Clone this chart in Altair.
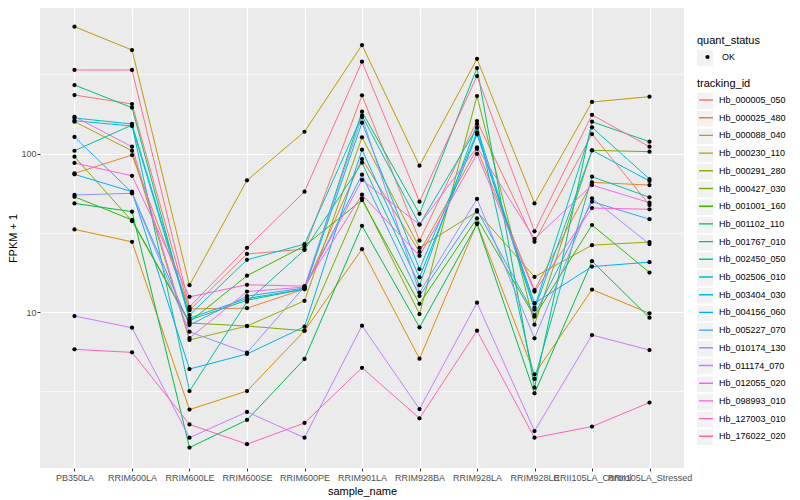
import altair as alt
import pandas as pd

samples = ["PB350LA", "RRIM600LA", "RRIM600LE", "RRIM600SE", "RRIM600PE",
           "RRIM901LA", "RRIM928BA", "RRIM928LA", "RRIM928LE",
           "RRII105LA_Control", "RRII105LA_Stressed"]

tracking_ids = ["Hb_000005_050", "Hb_000025_480", "Hb_000088_040", "Hb_000230_110",
                "Hb_000291_280", "Hb_000427_030", "Hb_001001_160", "Hb_001102_110",
                "Hb_001767_010", "Hb_002450_050", "Hb_002506_010", "Hb_003404_030",
                "Hb_004156_060", "Hb_005227_070", "Hb_010174_130", "Hb_011174_070",
                "Hb_012055_020", "Hb_098993_010", "Hb_127003_010", "Hb_176022_020"]

hue_colors = ["#F8766D", "#EA8331", "#D89000", "#C09B00", "#A3A500", "#7CAE00",
              "#39B600", "#00BB4E", "#00BF7D", "#00C1A3", "#00BFC4", "#00BAE0",
              "#00B0F6", "#35A2FF", "#9590FF", "#C77CFF", "#E76BF3", "#FA62DB",
              "#FF62BC", "#FF6C91"]

# FPKM + 1 per sample (same order as samples)
hb_000005_050 = [234.6, 205.9, 10.3, 23.3, 25.0, 233.6, 28.3, 160.8, 27.8, 133.1, 47.5]
hb_000025_480 = [75.2, 98.1, 10.5, 10.6, 14.0, 92.6, 24.0, 107.1, 13.8, 66.0, 63.4]
hb_000088_040 = [33.3, 27.8, 2.43, 3.18, 7.64, 25.0, 5.09, 36.4, 4.06, 13.9, 9.84]
hb_000230_110 = [633, 451, 14.8, 67.9, 137.6, 485, 84.0, 397, 48.6, 212, 229]
hb_000291_280 = [159.2, 104.4, 6.68, 8.18, 11.8, 126.9, 25.5, 43.1, 16.7, 26.5, 27.7]
hb_000427_030 = [95.7, 37.6, 8.55, 8.18, 7.64, 52.3, 9.74, 231.2, 8.34, 105, 103]
hb_001001_160 = [53.5, 38.2, 8.68, 17.0, 26.2, 51.0, 11.3, 39.1, 9.37, 35.5, 17.8]
hb_001102_110 = [48.6, 43.1, 1.40, 2.09, 5.07, 35.1, 8.03, 36.0, 3.08, 21.0, 9.23]
hb_001767_010 = [271.3, 195.1, 8.93, 11.9, 14.0, 184, 41.8, 347.3, 3.34, 159.2, 119]
hb_002450_050 = [104.4, 151.8, 3.18, 11.65, 24.7, 87.8, 14.8, 154, 3.79, 71.6, 53.1]
hb_002506_010 = [168, 154, 9.60, 21.4, 26.9, 173.7, 35.7, 145.9, 10.7, 146.7, 69.2]
hb_003404_030 = [161.5, 149.5, 9.19, 12.2, 14.0, 156.9, 18.7, 136.5, 10.4, 105, 67.3]
hb_004156_060 = [74.1, 57.6, 4.38, 5.45, 8.10, 106, 16.6, 132.6, 11.4, 19.4, 20.7]
hb_005227_070 = [127.5, 56.9, 8.30, 12.65, 14.2, 73.7, 12.65, 44.1, 9.60, 49.8, 38.6]
hb_010174_130 = [54.9, 56.3, 7.53, 5.55, 14.5, 170.4, 13.3, 51.8, 6.84, 52.3, 26.9]
hb_011174_070 = [9.46, 7.98, 1.615, 2.35, 1.615, 8.22, 2.45, 11.48, 1.78, 7.18, 5.77]
hb_012055_020 = [171.1, 110.7, 6.87, 13.5, 14.4, 68.3, 35.7, 109.7, 29.0, 63.4, 49.1]
hb_098993_010 = [87.4, 72.6, 12.5, 14.9, 14.6, 55.1, 22.7, 99.6, 13.5, 45.4, 44.6]
hb_127003_010 = [5.83, 5.58, 1.96, 1.47, 2.00, 4.46, 2.14, 7.64, 1.615, 1.90, 2.69]
hb_176022_020 = [337.5, 337.5, 10.8, 25.5, 57.6, 380.6, 49.8, 309, 32.4, 176, 110.7]

series = [hb_000005_050, hb_000025_480, hb_000088_040, hb_000230_110, hb_000291_280,
          hb_000427_030, hb_001001_160, hb_001102_110, hb_001767_010, hb_002450_050,
          hb_002506_010, hb_003404_030, hb_004156_060, hb_005227_070, hb_010174_130,
          hb_011174_070, hb_012055_020, hb_098993_010, hb_127003_010, hb_176022_020]

y_ticks = [3.1623, 10, 31.623, 100, 316.23]

rows = []
for tid, vals in zip(tracking_ids, series):
    for s, v in zip(samples, vals):
        rows.append({"sample_name": s, "tracking_id": tid, "fpkm1": v,
                     "quant_status": "OK", "tid_key": tid, "qs_key": "OK"})
df = pd.DataFrame(rows)

FONT = "Liberation Sans"
major = "datum.value == 10 || datum.value == 100"

x = alt.X("sample_name:N", sort=samples,
          scale=alt.Scale(type="point", padding=0.6),
          axis=alt.Axis(title="sample_name", labelAngle=0, labelOverlap=False,
                        labelBound=False, labelLimit=0,
                        labelFontSize=9, labelColor="#4D4D4D", labelFont=FONT,
                        labelPadding=2, tickColor="#333333", tickSize=3, tickWidth=1,
                        domain=False, grid=True, gridColor="white", gridWidth=1.2,
                        titleFontSize=11, titleFont=FONT, titleFontWeight="normal",
                        titleColor="black", titlePadding=3))
y = alt.Y("fpkm1:Q",
          scale=alt.Scale(type="log", domain=[1.040, 830.6], nice=False, zero=False),
          axis=alt.Axis(title="FPKM + 1", values=y_ticks,
                        labelExpr="datum.value == 10 ? '10' : datum.value == 100 ? '100' : ''",
                        labelFontSize=9, labelColor="#4D4D4D", labelFont=FONT,
                        labelPadding=1, tickColor="#333333", tickSize=3, tickWidth=1,
                        tickOpacity={"condition": {"test": major, "value": 1}, "value": 0},
                        domain=False, grid=True, gridColor="white",
                        gridWidth={"condition": {"test": major, "value": 1.2}, "value": 0.6},
                        titleFontSize=11, titleFont=FONT, titleFontWeight="normal",
                        titleColor="black", titlePadding=2))

common = dict(orient="none", direction="vertical", titleFontSize=11, titleFont=FONT,
              titleFontWeight="normal", titleColor="black", titlePadding=4,
              labelFontSize=9, labelFont=FONT, labelColor="black",
              padding=0, offset=0, rowPadding=1.7, clipHeight=16)

# legend key backgrounds (no marks drawn: the layer's data is filtered out)
bg_tid = alt.Chart(df).transform_filter("datum.fpkm1 < 0").mark_square(size=0).encode(
    x=x, y=y,
    fill=alt.Fill("tid_key:N",
                  scale=alt.Scale(domain=tracking_ids, range=["#F2F2F2"]),
                  legend=alt.Legend(title="tracking_id", legendX=657, legendY=70,
                                    symbolType="square", symbolSize=256,
                                    symbolStrokeWidth=0, symbolOpacity=1,
                                    labelExpr="''", zindex=0, **common)))

bg_qs = alt.Chart(df).transform_filter("datum.fpkm1 < 0").mark_square(size=0).encode(
    x=x, y=y,
    fill=alt.Fill("qs_key:N",
                  scale=alt.Scale(domain=["OK"], range=["#F2F2F2"]),
                  legend=alt.Legend(title="quant_status", legendX=657, legendY=27,
                                    symbolType="square", symbolSize=256,
                                    symbolStrokeWidth=0, symbolOpacity=1,
                                    labelExpr="''", zindex=0, **common)))

lines = alt.Chart(df).mark_line(strokeWidth=1).encode(
    x=x, y=y,
    color=alt.Color("tracking_id:N",
                    scale=alt.Scale(domain=tracking_ids, range=hue_colors),
                    legend=alt.Legend(title=None, legendX=658, legendY=84,
                                      symbolType="stroke", symbolSize=196,
                                      symbolStrokeWidth=1.4, labelOffset=5,
                                      zindex=1, **common)))

points = alt.Chart(df).mark_point(filled=True, color="black", size=18, opacity=1).encode(
    x=x, y=y,
    shape=alt.Shape("quant_status:N",
                    scale=alt.Scale(domain=["OK"], range=["circle"]),
                    legend=alt.Legend(title=None, legendX=663, legendY=41, symbolSize=18,
                                      symbolFillColor="black", symbolStrokeColor="black",
                                      labelOffset=10, zindex=1, **common)))

chart = alt.layer(bg_tid, bg_qs, lines, points).resolve_scale(
    fill="independent"
).properties(
    width=644, height=460,
    autosize=alt.AutoSizeParams(type="none"),
    padding={"left": 32, "top": 0, "right": 108, "bottom": 30},
    background="white",
).configure_view(fill="#EBEBEB", stroke=None)

chart.save("out.html", embed_options={"renderer": "svg", "actions": False})
